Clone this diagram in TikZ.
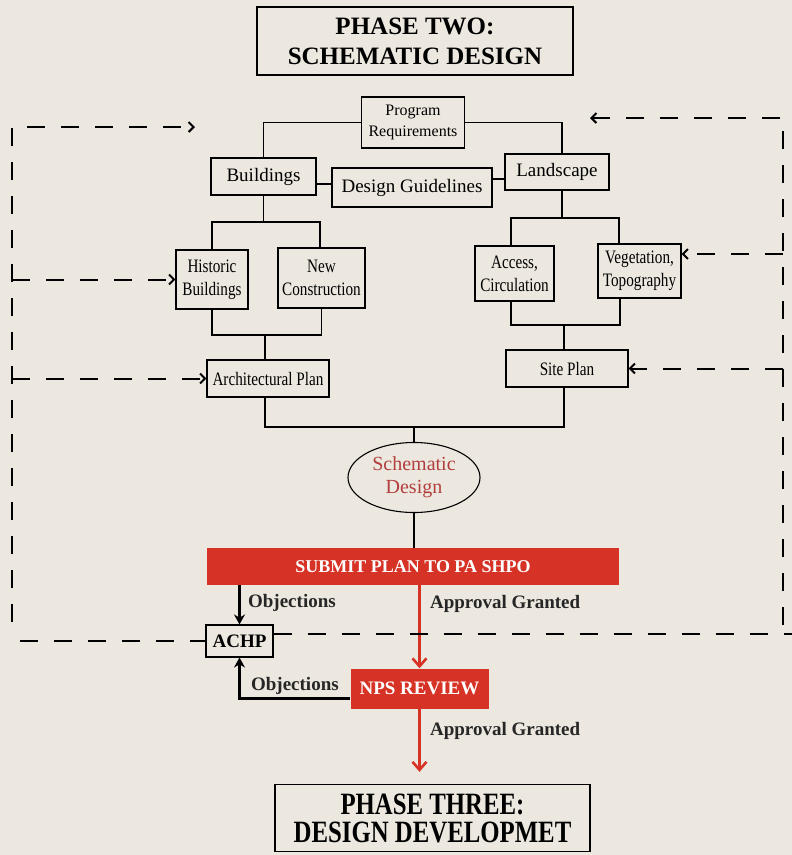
\documentclass[tikz,border=0pt]{standalone}
\usepackage{fontspec}
\setmainfont{Liberation Serif}
\newfontfamily\narrowfont{Liberation Serif}[FakeStretch=0.8]
\usetikzlibrary{shapes.geometric,arrows.meta}
\definecolor{paper}{RGB}{236,232,223}
\definecolor{shpored}{RGB}{214,50,38}
\definecolor{schred}{RGB}{178,62,62}
\begin{document}
\begin{tikzpicture}[x=1pt,y=-1pt,
  box/.style={draw,line width=1.1pt,inner sep=1pt,align=center,font=\fontsize{19}{23}\selectfont},
  smallbox/.style={box,font=\narrowfont\fontsize{19}{23}\selectfont},
  phase/.style={draw,line width=1.4pt,inner sep=1pt,align=center},
  redbar/.style={fill=shpored,inner sep=1pt,text=white,font=\bfseries\fontsize{18}{20}\selectfont},
  lab/.style={font=\bfseries\fontsize{19}{21}\selectfont},
  tree/.style={line width=1.1pt},
  fbline/.style={line width=2pt,dash pattern=on 18pt off 16pt},
  fb/.style={fbline,-{Straight Barb[length=5pt,width=10pt]}},
  blkarrow/.style={line width=2.6pt,-{Stealth[length=10pt,width=11pt]}},
  redarrow/.style={line width=2.6pt,shpored,-{Straight Barb[length=8pt,width=14pt,line width=2.6pt]}}]
\useasboundingbox (0,0) rectangle (792,855);
\fill[paper] (0,0) rectangle (792,855);
% headings
\node[phase,minimum width=316pt,minimum height=68pt,font=\bfseries\fontsize{25}{30}\selectfont] (p2) at (415,41) {PHASE TWO:\\SCHEMATIC DESIGN};
\node[phase,minimum width=315pt,minimum height=67pt,font=\narrowfont\bfseries\fontsize{31}{28}\selectfont] (p3) at (432.5,818) {PHASE THREE:\\DESIGN DEVELOPMET};
% program and its two branches
\node[box,minimum width=103pt,minimum height=51pt,font=\fontsize{16}{21}\selectfont] (prog) at (413,122.5) {Program\\Requirements};
\node[box,minimum width=105pt,minimum height=37pt] (bld) at (263.5,176.5) {Buildings};
\node[box,minimum width=160pt,minimum height=39pt] (guide) at (412,187.5) {Design Guidelines};
\node[box,minimum width=104pt,minimum height=36pt] (land) at (557,172) {Landscape};
\node[smallbox,minimum width=72pt,minimum height=59pt] (hist) at (212,279.5) {Historic\\Buildings};
\node[smallbox,minimum width=87pt,minimum height=60pt] (new) at (321.5,278) {New\\Construction};
\node[smallbox,minimum width=122pt,minimum height=37pt] (arch) at (268,378.5) {Architectural Plan};
\node[smallbox,minimum width=79pt,minimum height=55pt] (acc) at (514.5,273.5) {Access,\\Circulation};
\node[smallbox,minimum width=83pt,minimum height=54pt] (veg) at (639.5,271) {Vegetation,\\Topography};
\node[smallbox,minimum width=122pt,minimum height=37pt] (site) at (567,368.5) {Site Plan};
\node[draw,ellipse,line width=1.1pt,inner sep=0pt,minimum width=132pt,minimum height=70pt,align=center,text=schred,font=\fontsize{20}{23}\selectfont] (sch) at (414,477.5) {Schematic\\Design};
% review
\node[redbar,minimum width=412pt,minimum height=37pt] (submit) at (413,566.5) {SUBMIT PLAN TO PA SHPO};
\node[draw,line width=1.1pt,inner sep=1pt,minimum width=67pt,minimum height=32pt,lab] (achp) at (239.5,641) {ACHP};
\node[redbar,minimum width=138pt,minimum height=40pt,font=\bfseries\fontsize{19}{21}\selectfont] (nps) at (419.5,688.5) {NPS REVIEW};
% tree joints
\coordinate (bj) at (263.5,222); \coordinate (bk) at (265,335);
\coordinate (lj) at (562,218); \coordinate (lk) at (564,325);
\coordinate (mj) at (414,427);
\draw[tree] (prog.west) -| (bld.north);
\draw[tree] (prog.east) -| ([xshift=5pt]land.north);
\draw[tree] (bld.east |- 0,184) -- (guide.west |- 0,184);
\draw[tree] (guide.east |- 0,179) -- (land.west |- 0,179);
\draw[tree] (bld.south) -- (bj);
\draw[tree] (hist.north) |- (bj) -| ([xshift=-1.5pt]new.north);
\draw[tree] (hist.south) |- (bk) -| (new.south);
\draw[tree] (bk) -- (arch.north -| bk);
\draw[tree] (land.south -| lj) -- (lj);
\draw[tree] ([xshift=-3.5pt]acc.north) |- (lj) -| ([xshift=-20.5pt]veg.north);
\draw[tree] ([xshift=-3.5pt]acc.south) |- (lk) -| ([xshift=-19.5pt]veg.south);
\draw[tree] (lk) -- (site.north -| lk);
\draw[tree] (arch.south -| bk) |- (mj) -| (site.south -| lk);
\draw[tree] (mj) -- (sch.north);
\draw[tree] (sch.south) -- (submit.north -| sch.south);
% approvals and objections
\draw[blkarrow] (submit.south -| achp.north) -- (achp.north) node[pos=0.45,right=4pt,lab,text=black!85] {Objections};
\draw[redarrow] (submit.south -| nps.north) -- (nps.north) node[pos=0.22,right=6pt,lab,text=black!85] {Approval Granted};
\draw[blkarrow] ([yshift=-10pt]nps.west) -| (achp.south) node[pos=0.25,above=-1pt,lab,text=black!85] {Objections};
\draw[redarrow,shorten >=12pt] (nps.south) -- (p3.north -| nps.south) node[pos=0.3,right=6pt,lab,text=black!85] {Approval Granted};
% feedback loops
\coordinate (lt) at (12,127); \coordinate (lb) at (12,622); \coordinate (la) at (195,127);
\coordinate (rt) at (783,118); \coordinate (rb) at (783,625); \coordinate (ra) at (590,118);
\coordinate (bl) at (20,641); \coordinate (br) at (792,634);
\draw[fb] (lb) -- (lt) -- (la);
\draw[fb] (rb) -- (rt) -- (ra);
\draw[fb] (lt |- hist.west) -- (hist.west);
\draw[fb] (lt |- arch.west) -- (arch.west);
\draw[fb] (rt |- 0,254) -- (veg.east |- 0,254);
\draw[fb] (rt |- site.east) -- (site.east);
\draw[fbline] (bl) -- (achp.west |- bl);
\draw[fbline] (achp.east |- br) -- (br);
\end{tikzpicture}
\end{document}
